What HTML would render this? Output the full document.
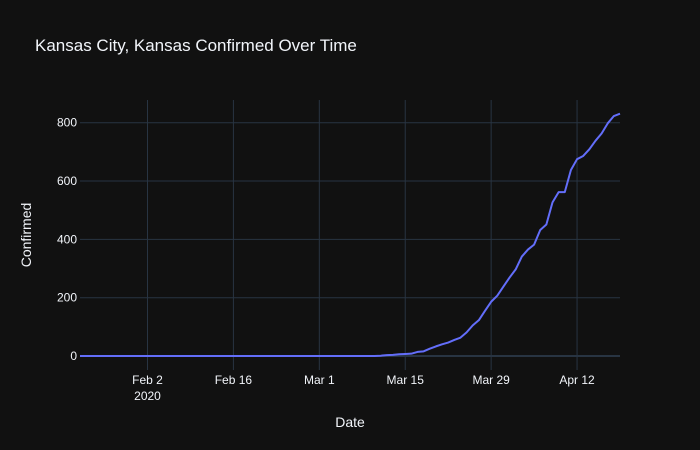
<!DOCTYPE html>
<html><head><meta charset="utf-8"><style>
html,body{margin:0;padding:0;background:#111111;}
svg{display:block;font-family:"Liberation Sans","DejaVu Sans",sans-serif;}
</style></head><body>
<svg id="chart" width="700" height="450" viewBox="0 0 700 450">
<rect width="700" height="450" fill="#111111"/>
<text x="35" y="51" fill="#f2f5fa" font-size="17">Kansas City, Kansas Confirmed Over Time</text>
<g id="grid"></g>
<g id="ticks"></g>
<g id="series"></g>
<text x="350" y="427" fill="#f2f5fa" font-size="14" text-anchor="middle">Date</text>
<text transform="translate(31,235) rotate(-90)" fill="#f2f5fa" font-size="14" text-anchor="middle">Confirmed</text>
</svg>
<script>
const startDate = "2020-01-22";
const values = [0,0,0,0,0,0,0,0,0,0,0,0,0,0,0,0,0,0,0,0,0,0,0,0,0,0,0,0,0,0,0,0,0,0,0,0,0,0,0,0,0,0,0,0,0,0,0,0,0,1,3,4,6,7,8,14,16,25,33,40,46,55,63,81,105,123,155,186,207,238,269,297,341,365,382,432,451,527,562,562,638,675,686,709,738,763,798,823,831];
const yTicks = [0,200,400,600,800];
const xTickDays = [11,25,39,53,67,81];
const xTickLabels = ["Feb 2","Feb 16","Mar 1","Mar 15","Mar 29","Apr 12"];
const xTickSub = ["2020","","","","",""];

const L=80,R=620,T=100,B=370;
const xMax = values.length-1;
const yMin=-48, yMax=878;
const xs = d => L + d/xMax*(R-L);
const ys = v => B - (v-yMin)/(yMax-yMin)*(B-T);
const NS="http://www.w3.org/2000/svg";
function mk(tag, attrs, parent){const e=document.createElementNS(NS,tag);for(const k in attrs)e.setAttribute(k,attrs[k]);parent.appendChild(e);return e;}
const grid=document.getElementById('grid'), ticks=document.getElementById('ticks'), series=document.getElementById('series');
xTickDays.forEach((d,i)=>{
  const g=mk('line',{x1:xs(d),x2:xs(d),y1:T,y2:B,stroke:'#283442','stroke-width':1},grid);
  
  
  const t=mk('text',{x:xs(d),y:B+14,fill:'#f2f5fa','font-size':12,'text-anchor':'middle'},ticks);
  t.textContent=xTickLabels[i];
  
  
  if(xTickSub[i]){
    const s=mk('text',{x:xs(d),y:B+30,fill:'#f2f5fa','font-size':12,'text-anchor':'middle'},ticks);
    s.textContent=xTickSub[i];
    
    
  }
});
yTicks.forEach(v=>{
  const g=mk('line',{x1:L,x2:R,y1:ys(v),y2:ys(v),stroke:'#283442','stroke-width':v===0?2:1},grid);
  
  
  const t=mk('text',{x:L-3,y:ys(v)+4,fill:'#f2f5fa','font-size':12,'text-anchor':'end'},ticks);
  t.textContent=String(v);
  
  
});
const pts=values.map((v,i)=>xs(i).toFixed(2)+','+ys(v).toFixed(2)).join(' ');
const line=mk('polyline',{points:pts,fill:'none',stroke:'#636efa','stroke-width':2,'stroke-linejoin':'round'},series);


</script>
</body></html>
